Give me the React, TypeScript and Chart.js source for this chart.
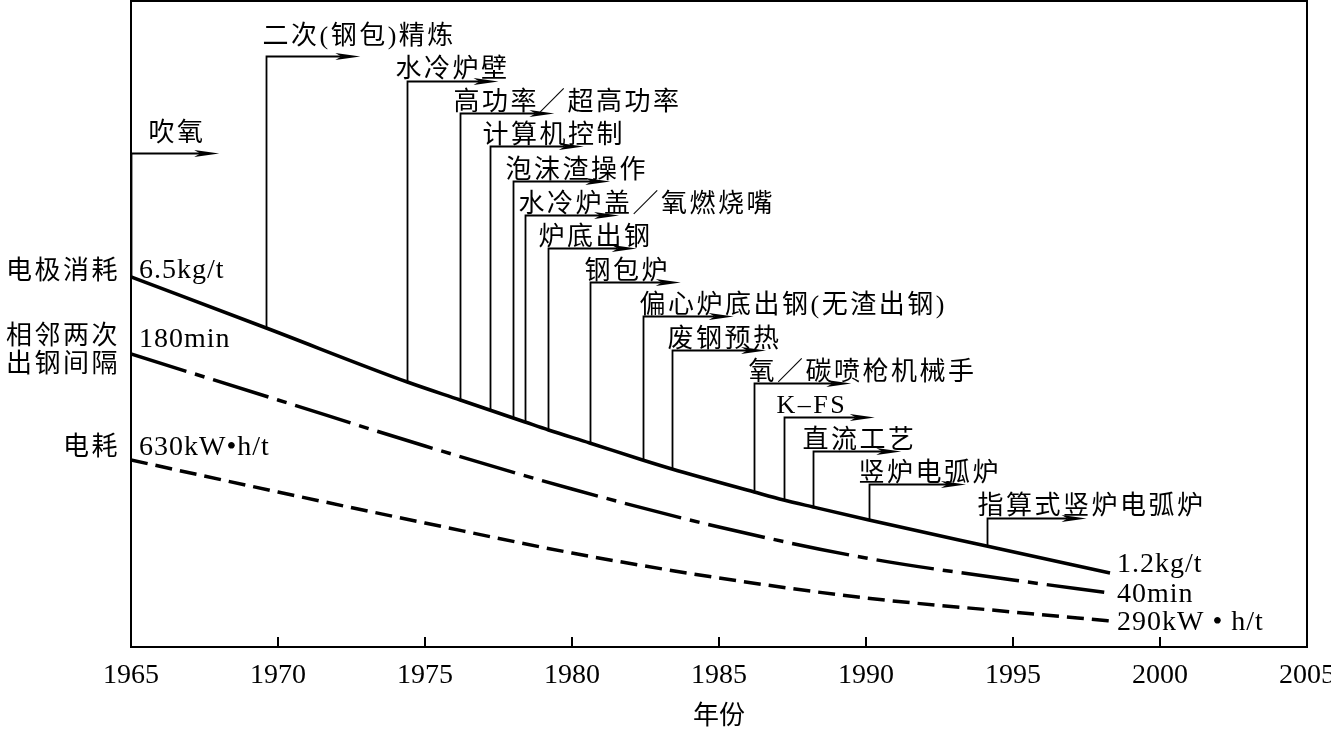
import React, { useEffect, useRef } from 'react';
import { Chart, registerables } from 'chart.js';

Chart.register(...registerables);

// ---------- data ----------
const yearTicks = [1965, 1970, 1975, 1980, 1985, 1990, 1995, 2000, 2005];

// relative heights (no y scale in the original)
const electrodeYears = [1965, 1969.6, 1974.4, 1976.2, 1977.2, 1978.0, 1978.4, 1979.2, 1980.6, 1982.4, 1983.4, 1986.2, 1987.2, 1988.2, 1990.1, 1994.1, 1998.3];
const electrodeValues = [370, 319, 265, 247, 237, 229, 225, 217, 204, 187, 178, 155, 147, 140, 127, 101, 74];

const tapYears = [1965, 1970, 1975, 1980, 1985, 1990, 1995, 1998.3];
const tapValues = [293, 247, 201, 158, 120, 89, 67, 54];

const energyYears = [1965, 1970, 1975, 1980, 1985, 1990, 1995, 1998.3];
const energyValues = [187, 155, 124, 94, 69, 49, 35, 26];

const seriesNames = ['电极消耗', '相邻两次\n出钢间隔', '电耗'];
const startLabels = ['6.5kg/t', '180min', '630kW•h/t'];
const endLabels = ['1.2kg/t', '40min', '290kW • h/t'];

const milestoneLabels = ['吹氧', '二次(钢包)精炼', '水冷炉壁', '高功率／超高功率', '计算机控制', '泡沫渣操作', '水冷炉盖／氧燃烧嘴', '炉底出钢', '钢包炉', '偏心炉底出钢(无渣出钢)', '废钢预热', '氧／碳喷枪机械手', 'K–FS', '直流工艺', '竖炉电弧炉', '指算式竖炉电弧炉'];
const milestoneYears = [1965, 1969.6, 1974.4, 1976.2, 1977.2, 1978.0, 1978.4, 1979.2, 1980.6, 1982.4, 1983.4, 1986.2, 1987.2, 1988.2, 1990.1, 1994.1];
const milestoneLevels = [494, 591, 566, 534, 501, 466, 432, 399, 365, 331, 297, 264, 230, 196, 163, 129];
const milestoneArrowEnds = [1968.0, 1972.8, 1977.5, 1979.4, 1980.4, 1981.3, 1981.6, 1982.2, 1983.7, 1985.5, 1986.6, 1989.5, 1990.3, 1991.2, 1993.4, 1997.5];

// ---------- layout / style ----------
const SERIF = "'Liberation Serif', 'Times New Roman', serif";
const CJK = "'Liberation Serif', 'Noto Sans CJK SC', sans-serif";
const labelDx = [17, -4, -12, -7, -8, -8, -7, -10, -6, -4, -5, -6, -8, -11, -11, -10];
const labelGap = [13, 13, 5, 4, 4, 4, 4, 4, 4, 4, 4, 4, 5, 4, 4, 5];
const nameDy = [[-5], [-17, 11], [-12]];
const startDy = [1, -7, -5];
const endDy = [-1, 9, 9];

function arrowHead(ctx: CanvasRenderingContext2D, xe: number, yv: number) {
  ctx.beginPath();
  ctx.moveTo(xe, yv);
  ctx.lineTo(xe - 25, yv - 3.5);
  ctx.lineTo(xe - 19, yv);
  ctx.lineTo(xe - 25, yv + 3.5);
  ctx.closePath();
  ctx.fill();
}

const overlay = {
  id: 'overlay',
  afterDatasetsDraw(chart: any) {
    const { ctx, chartArea: a, scales } = chart;
    const x = scales.x;
    const y = scales.y;
    ctx.save();
    ctx.strokeStyle = '#000';
    ctx.fillStyle = '#000';
    // frame
    ctx.lineWidth = 2;
    ctx.strokeRect(a.left, a.top, a.right - a.left, a.bottom - a.top);
    // inward ticks
    x.ticks.forEach((t: any) => {
      if (t.value > x.min && t.value < x.max) {
        const px = Math.round(x.getPixelForValue(t.value));
        ctx.beginPath();
        ctx.moveTo(px, a.bottom);
        ctx.lineTo(px, a.bottom - 10);
        ctx.stroke();
      }
    });

    // milestones
    ctx.lineWidth = 1.8;
    ctx.font = `26px ${CJK}`;
    (ctx as any).letterSpacing = '2.5px';
    ctx.textAlign = 'left';
    ctx.textBaseline = 'alphabetic';
    milestoneYears.forEach((yr, i) => {
      const idx = electrodeYears.indexOf(yr);
      const base = y.getPixelForValue(electrodeValues[idx]);
      const xv = Math.round(x.getPixelForValue(yr)) + 0.5;
      const top = Math.round(y.getPixelForValue(milestoneLevels[i])) + 0.5;
      const xe = x.getPixelForValue(milestoneArrowEnds[i]);
      ctx.beginPath();
      ctx.moveTo(xv, base);
      ctx.lineTo(xv, top);
      ctx.lineTo(xe - 19, top);
      ctx.stroke();
      arrowHead(ctx, xe, top);
      ctx.fillText(milestoneLabels[i], xv + labelDx[i], top - labelGap[i]);
    });

    // series names (left, outside plot)
    const starts = [electrodeValues[0], tapValues[0], energyValues[0]];
    const ends = [
      [electrodeYears[electrodeYears.length - 1], electrodeValues[electrodeValues.length - 1]],
      [tapYears[tapYears.length - 1], tapValues[tapValues.length - 1]],
      [energyYears[energyYears.length - 1], energyValues[energyValues.length - 1]],
    ];
    ctx.textAlign = 'right';
    ctx.textBaseline = 'middle';
    seriesNames.forEach((name, i) => {
      const py = y.getPixelForValue(starts[i]);
      name.split('\n').forEach((line, j) => {
        ctx.fillText(line, a.left - 11, py + nameDy[i][j]);
      });
    });

    // start / end values
    ctx.font = `28px ${SERIF}`;
    (ctx as any).letterSpacing = '1px';
    ctx.textAlign = 'left';
    ctx.textBaseline = 'alphabetic';
    startLabels.forEach((s, i) => {
      const py = y.getPixelForValue(starts[i]);
      ctx.fillText(s, a.left + 8, py + startDy[i]);
    });
    endLabels.forEach((s, i) => {
      const px = x.getPixelForValue(ends[i][0]);
      const py = y.getPixelForValue(ends[i][1]);
      ctx.fillText(s, px + 7, py + endDy[i]);
    });
    ctx.restore();
  },
};

export default function App() {
  const ref = useRef<HTMLCanvasElement | null>(null);
  useEffect(() => {
    if (!ref.current) return;
    const pts = (xs: number[], ys: number[]) => xs.map((xv, i) => ({ x: xv, y: ys[i] }));
    const common = { borderColor: '#000', borderWidth: 3.5, pointRadius: 0, fill: false, cubicInterpolationMode: 'monotone' as const };
    const chart = new Chart(ref.current, {
      type: 'line',
      data: {
        datasets: [
          { label: seriesNames[0], data: pts(electrodeYears, electrodeValues), ...common },
          { label: seriesNames[1], data: pts(tapYears, tapValues), ...common, borderDash: [58, 9, 10, 9] },
          { label: seriesNames[2], data: pts(energyYears, energyValues), ...common, borderDash: [17, 8] },
        ],
      },
      options: {
        responsive: false,
        animation: false,
        layout: { padding: { left: 131, top: 1, right: 24, bottom: 0 } },
        plugins: { legend: { display: false }, tooltip: { enabled: false } },
        scales: {
          x: {
            type: 'linear',
            min: 1965,
            max: 2005,
            afterBuildTicks: (s: any) => {
              s.ticks = yearTicks.map((v) => ({ value: v }));
            },
            afterFit: (s: any) => {
              s.height = 86;
              s.paddingLeft = 0;
              s.paddingRight = 0;
            },
            grid: { display: false, drawTicks: false },
            border: { display: false },
            ticks: {
              color: '#000',
              font: { family: SERIF, size: 28 },
              padding: 12,
              maxRotation: 0,
              autoSkip: false,
              callback: (v: any) => String(v),
            },
            title: {
              display: true,
              text: '年份',
              color: '#000',
              font: { family: CJK, size: 26 },
              padding: { top: 0, bottom: 0 },
            },
          },
          y: { display: false, min: 0, max: 646 },
        },
      },
      plugins: [overlay],
    });
    return () => chart.destroy();
  }, []);
  return (
    <div style={{ position: 'absolute', left: 0, top: 0, width: 1331, height: 733, background: '#fff' }}>
      <canvas ref={ref} width={1331} height={733} style={{ display: 'block' }} />
    </div>
  );
}
